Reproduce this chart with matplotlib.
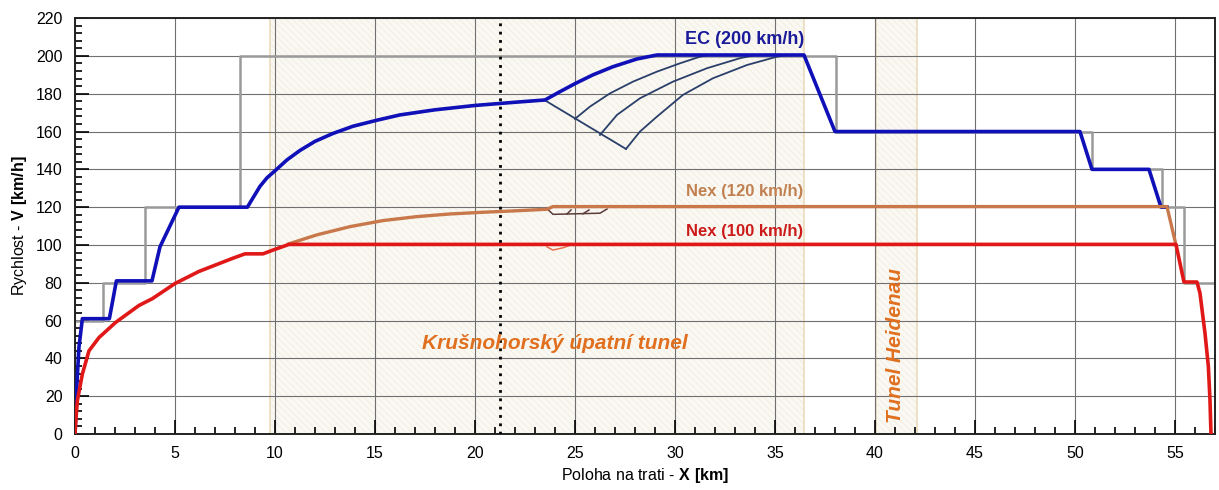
import matplotlib.pyplot as plt
from matplotlib.ticker import MultipleLocator

plt.rcParams['font.family'] = ['Liberation Sans', 'DejaVu Sans']
plt.rcParams['mathtext.fontset'] = 'custom'
plt.rcParams['mathtext.rm'] = 'Liberation Sans'
plt.rcParams['mathtext.bf'] = 'Liberation Sans:bold'
plt.rcParams['hatch.linewidth'] = 0.4

# speed limit (step line, km -> km/h)
limit_x = [0, 1.4, 1.4, 3.5, 3.5, 8.25, 8.25, 38.05, 38.05, 50.85, 50.85, 54.35, 54.35, 55.45, 55.45, 57]
limit_v = [60, 60, 80, 80, 120, 120, 200, 200, 160, 160, 140, 140, 120, 120, 80, 80]

# EC (200 km/h)
ec_x = [0, 0.1, 0.2, 0.37, 1.72, 2.07, 3.85, 4.25, 5.2, 8.62, 9.25, 9.6, 10.05, 10.6, 11.25,
        12.0, 12.9, 13.9, 15.1, 16.25, 18.0, 20.0, 22.0, 23.5, 24.25, 25.03, 25.9, 26.9,
        28.1, 29.1, 36.45, 38.0, 50.25, 50.85, 53.7, 54.3, 54.6]
ec_v = [0, 27, 46, 61, 61, 81, 81, 99, 120, 120, 131, 135.5, 139.7, 145, 150,
        154.8, 159, 162.8, 166, 168.8, 171.5, 173.8, 175.5, 176.7, 181.1, 185.5, 190, 194.3,
        198.4, 200.5, 200.5, 160, 160, 140, 140, 120, 120]

# EC braking/accelerating variants
brake_x = [23.5, 27.55]
brake_v = [176.5, 150.8]
var_a_x = [25.0, 25.75, 26.75, 27.9, 29.1, 30.25, 31.25, 31.6]
var_a_v = [166.7, 173.2, 180.2, 186.4, 191.7, 196.1, 199.6, 200.3]
var_b_x = [26.25, 27.1, 28.25, 29.9, 31.6, 33.25, 33.9]
var_b_v = [158.2, 168.8, 177.6, 186.4, 193.5, 198.8, 200.2]
var_c_x = [27.55, 28.25, 29.1, 30.4, 31.9, 33.6, 35.1, 35.5]
var_c_v = [150.8, 160, 167.9, 179.4, 188.2, 195.2, 199.6, 200.3]

# Nex (120 km/h)
nex120_x = [10.67, 12.08, 13.75, 15.4, 17.1, 18.75, 20.4, 22.1, 23.6, 23.9, 54.6, 55.05]
nex120_v = [100.5, 105.3, 109.7, 112.9, 115, 116.4, 117.3, 118.1, 118.9, 120.3, 120.3, 100]
nex120_var_x = [23.67, 23.9, 26.25, 26.6]
nex120_var_v = [118.5, 116.2, 116.8, 119]
hook1_x = [24.6, 24.8]
hook1_v = [116.4, 118.5]
hook2_x = [25.4, 25.7]
hook2_v = [116.5, 118.5]

# Nex (100 km/h)
nex100_x = [0, 0.05, 0.12, 0.37, 0.7, 1.2, 2.03, 3.2, 3.87, 5.0, 6.2, 7.9, 8.5, 9.4, 9.9,
            10.7, 55.05, 55.45, 56.1, 56.25, 56.5, 56.67, 56.75, 56.8]
nex100_v = [0, 8, 17.6, 31.7, 44, 51, 59, 68, 71.6, 79.6, 86, 93, 95.3, 95.3, 97.3,
            100.3, 100.3, 80.4, 80.4, 74.5, 53.4, 35.6, 18, 0]
nex100_var_x = [23.6, 23.9, 24.4, 24.8]
nex100_var_v = [99, 97.3, 98.5, 100]

tunnels = [(9.75, 36.45), (40.05, 42.1)]
station_x = 21.25

fig = plt.figure(figsize=(12.19, 4.9), dpi=100)
ax = fig.add_axes([0.0615, 0.1143, 0.9352, 0.8487])

for a, b in tunnels:
    # hatched fill, then a separate border
    ax.axvspan(a, b, facecolor='#faf8f2', edgecolor='#efe8da', hatch='\\\\\\\\\\',
               linewidth=0, zorder=0.2)
    ax.axvspan(a, b, facecolor='none', edgecolor='#eadbbd', linewidth=1.2, zorder=0.3)

ax.set_axisbelow(True)
ax.grid(which='major', color='#707070', linewidth=0.8)

ax.plot(limit_x, limit_v, color='#9a9a9a', lw=1.8, zorder=2)
ax.plot(ec_x, ec_v, color='#1010b8', lw=2.6, zorder=4, solid_joinstyle='round')
navy = '#2a3f6a'
for xs, vs in [(brake_x, brake_v), (var_a_x, var_a_v), (var_b_x, var_b_v), (var_c_x, var_c_v)]:
    ax.plot(xs, vs, color=navy, lw=1.3, zorder=3)
ax.plot(nex120_x, nex120_v, color='#c8784a', lw=2.4, zorder=5, solid_joinstyle='round')
for xs, vs in [(nex120_var_x, nex120_var_v), (hook1_x, hook1_v), (hook2_x, hook2_v)]:
    ax.plot(xs, vs, color='#5a3c3c', lw=1.1, zorder=4)
ax.plot(nex100_var_x, nex100_var_v, color='#e87050', lw=1.1, zorder=4)
ax.plot(nex100_x, nex100_v, color='#e01818', lw=2.6, zorder=6, solid_joinstyle='round')

ax.axvline(station_x, color='black', lw=2, linestyle=(0, (1, 2)), zorder=7)

ax.text(33.5, 208.5, 'EC (200 km/h)', color='#1a1a9a', fontsize=13, fontweight='bold',
        ha='center', va='center', zorder=8)
ax.text(33.5, 128.5, 'Nex (120 km/h)', color='#c08050', fontsize=12, fontweight='bold',
        ha='center', va='center', zorder=8)
ax.text(33.5, 107, 'Nex (100 km/h)', color='#cc1a1a', fontsize=12, fontweight='bold',
        ha='center', va='center', zorder=8)
ax.text(24.0, 48, 'Krušnohorský úpatní tunel', color='#e07020', fontsize=15,
        fontweight='bold', style='italic', ha='center', va='center', zorder=8)
ax.text(41.05, 47, 'Tunel Heidenau', color='#e07020', fontsize=15, fontweight='bold',
        style='italic', rotation=90, ha='center', va='center', zorder=8)

ax.set_xlim(0, 57)
ax.set_ylim(0, 220)
ax.xaxis.set_major_locator(MultipleLocator(5))
ax.xaxis.set_minor_locator(MultipleLocator(1))
ax.yaxis.set_major_locator(MultipleLocator(20))
ax.yaxis.set_minor_locator(MultipleLocator(4))
ax.tick_params(which='both', direction='in', top=False, right=False, labelsize=11.5, width=1.2)
ax.tick_params(which='major', length=10, pad=9)
ax.tick_params(which='minor', length=5)
for s in ax.spines.values():
    s.set_linewidth(1.4)
    s.set_color('#222222')

ax.set_xlabel(r'Poloha na trati - $\mathbf{X\ [km]}$', fontsize=11.5, labelpad=3)
ax.set_ylabel(r'Rychlost - $\mathbf{V\ [km/h]}$', fontsize=11.5, labelpad=5)

fig.savefig('out.png', dpi=100)
